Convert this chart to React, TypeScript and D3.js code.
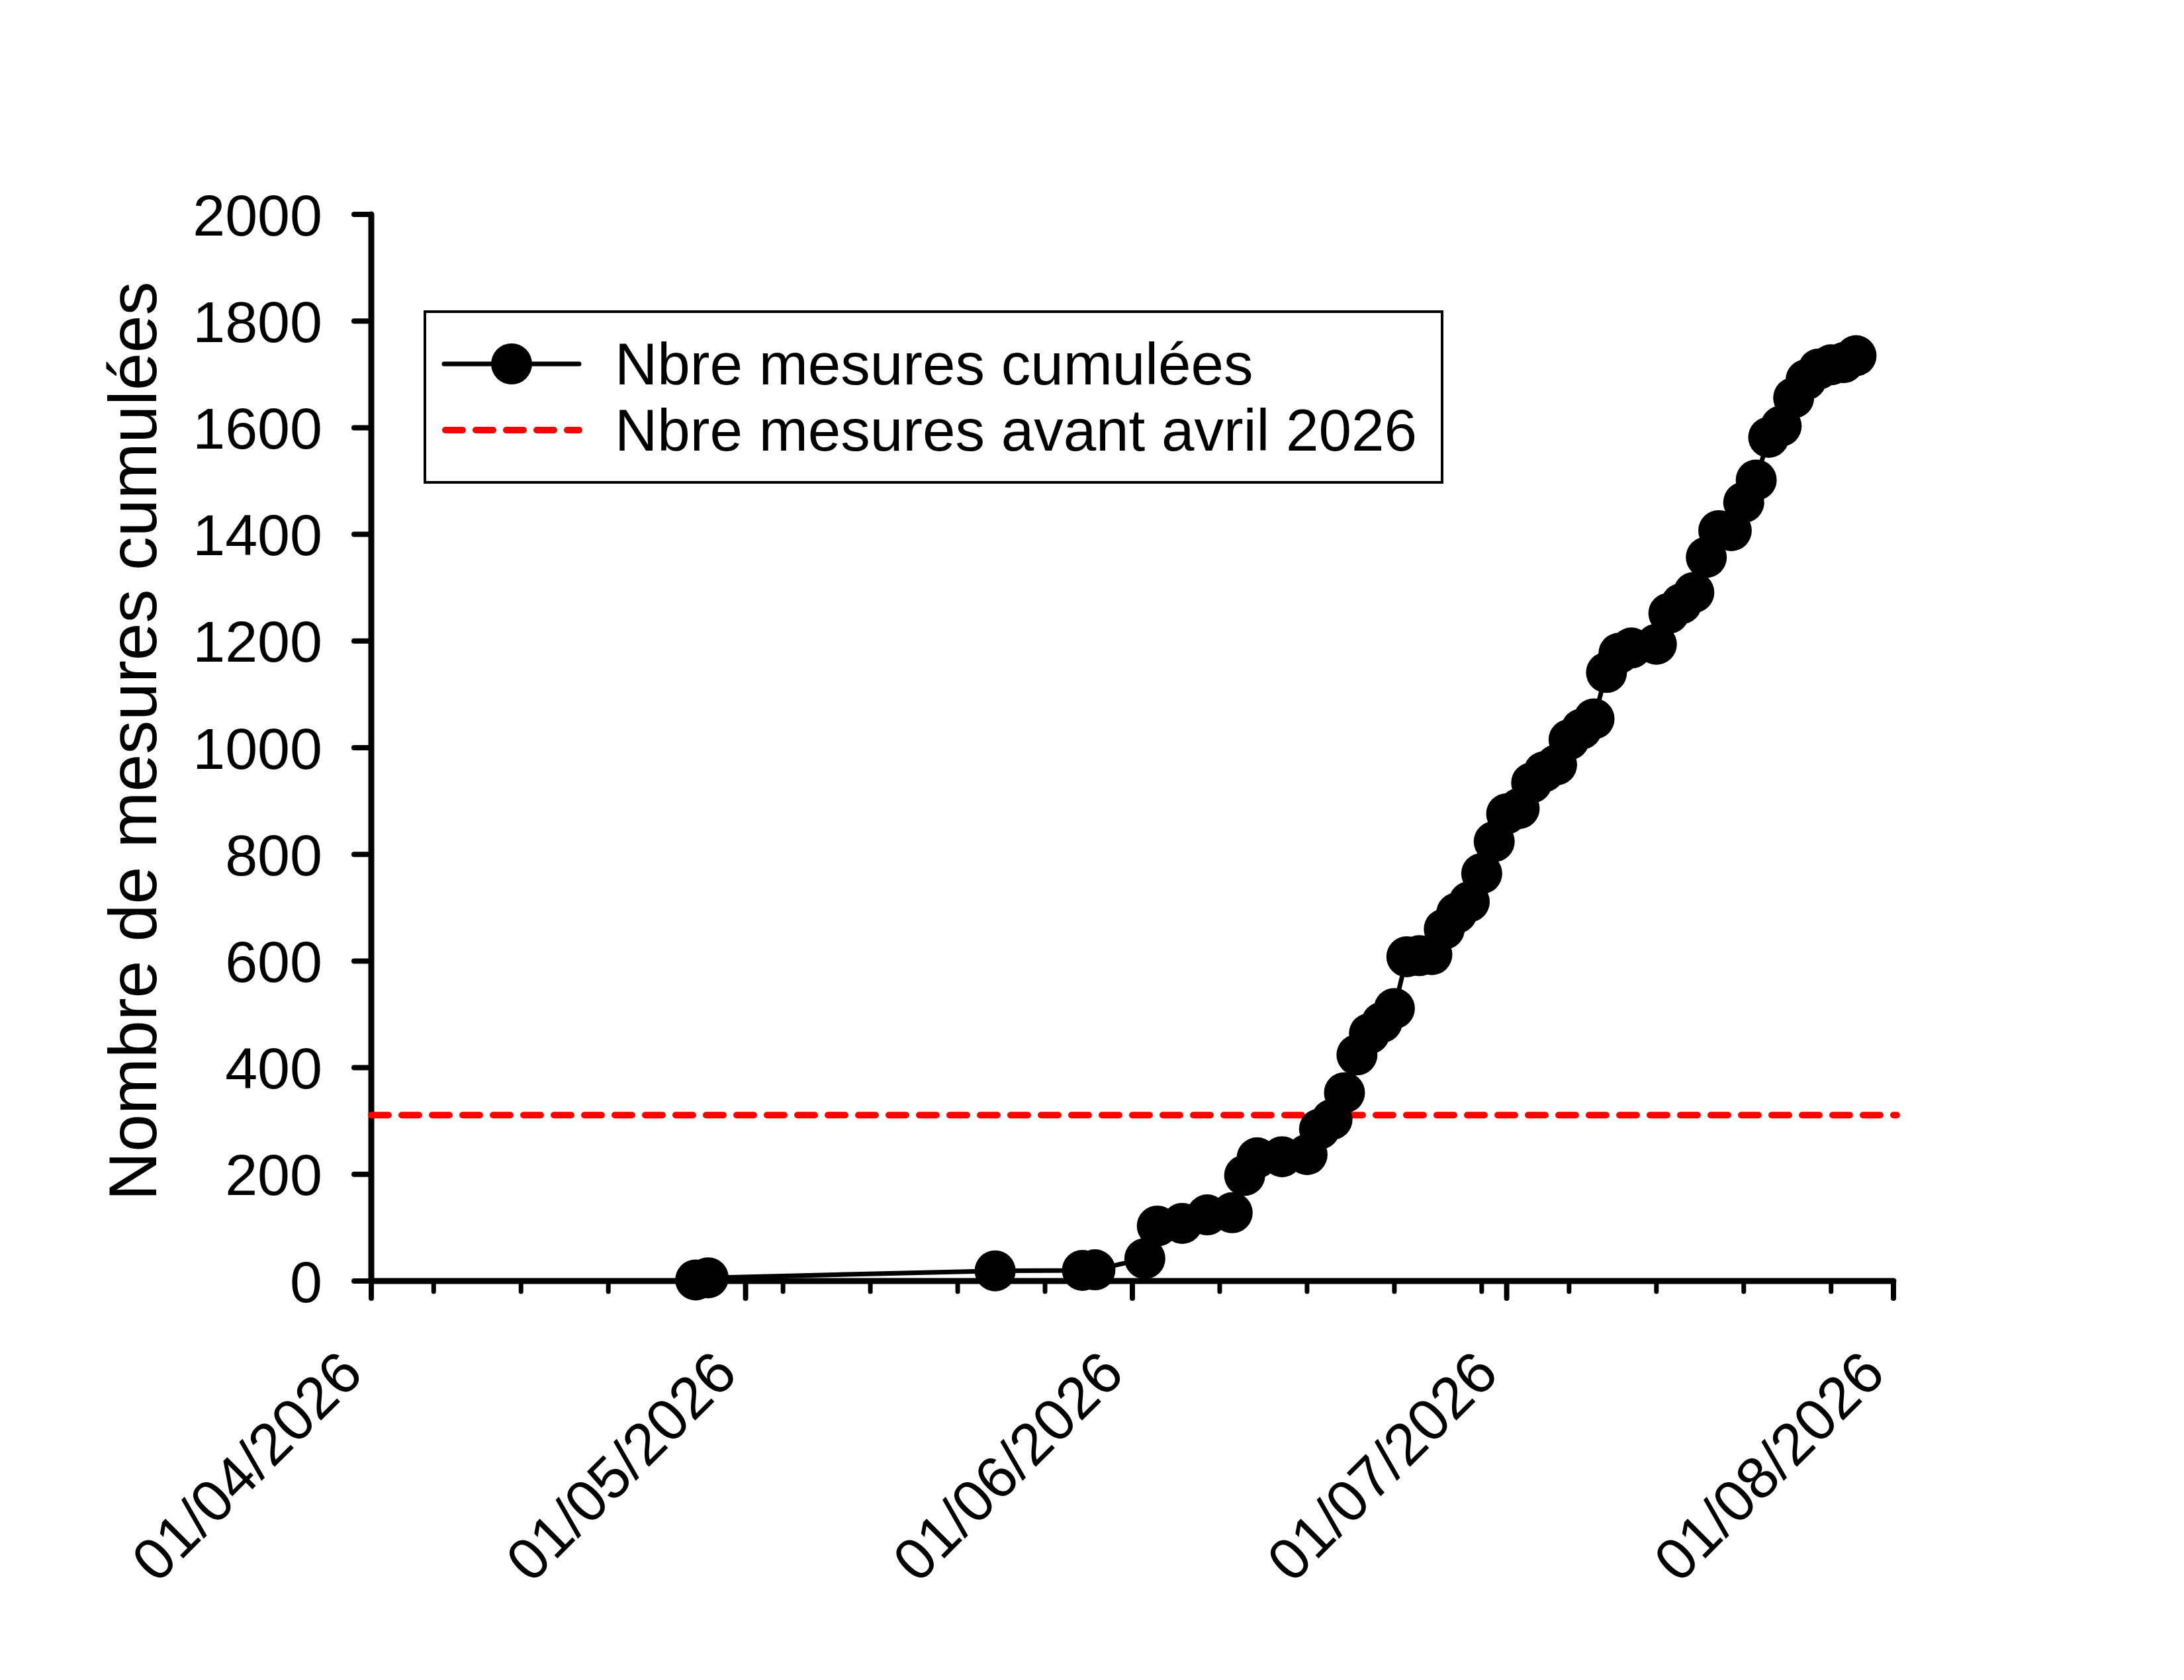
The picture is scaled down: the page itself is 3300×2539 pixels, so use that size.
import { useEffect, useRef } from "react";
import * as d3 from "d3";

const dates = [
  "2026-04-27", "2026-04-28", "2026-05-21", "2026-05-28", "2026-05-29",
  "2026-06-02", "2026-06-03", "2026-06-05", "2026-06-07", "2026-06-09",
  "2026-06-10", "2026-06-11", "2026-06-13", "2026-06-15", "2026-06-16",
  "2026-06-17", "2026-06-18", "2026-06-19", "2026-06-20", "2026-06-21",
  "2026-06-22", "2026-06-23", "2026-06-24", "2026-06-25", "2026-06-26",
  "2026-06-27", "2026-06-28", "2026-06-29", "2026-06-30", "2026-07-01",
  "2026-07-02", "2026-07-03", "2026-07-04", "2026-07-05", "2026-07-06",
  "2026-07-07", "2026-07-08", "2026-07-09", "2026-07-10", "2026-07-11",
  "2026-07-13", "2026-07-14", "2026-07-15", "2026-07-16", "2026-07-17",
  "2026-07-18", "2026-07-19", "2026-07-20", "2026-07-21", "2026-07-22",
  "2026-07-23", "2026-07-24", "2026-07-25", "2026-07-26", "2026-07-27",
  "2026-07-28", "2026-07-29",
];
const cumulated = [
  2, 6, 19, 20, 21,
  42, 103, 108, 124, 128,
  198, 231, 233, 237, 285,
  303, 353, 424, 464, 485,
  511, 608, 610, 612, 660,
  690, 711, 764, 824, 876,
  886, 934, 955, 968, 1015,
  1035, 1054, 1141, 1177, 1187,
  1194, 1252, 1270, 1291, 1357,
  1407, 1407, 1460, 1502, 1582,
  1603, 1656, 1690, 1710, 1718,
  1722, 1735,
];
const beforeApril = 311;
const yTicks = [0, 200, 400, 600, 800, 1000, 1200, 1400, 1600, 1800, 2000];
const xDomain = ["2026-04-01", "2026-08-01"];
const legendLabels = ["Nbre mesures cumulées", "Nbre mesures avant avril 2026"];
const yTitle = "Nombre de mesures cumulées";

const W = 3300;
const H = 2539;
const FONT = "'Liberation Sans', Arial, Helvetica, sans-serif";

export default function App() {
  const svgRef = useRef<SVGSVGElement | null>(null);

  useEffect(() => {
    if (!svgRef.current) return;
    const svg = d3.select(svgRef.current);
    svg.selectAll("*").remove();

    const parse = d3.utcParse("%Y-%m-%d");
    const data = dates.map((d, i) => ({ date: parse(d)!, value: cumulated[i] }));

    const x = d3
      .scaleUtc()
      .domain(xDomain.map((d) => parse(d)!))
      .range([561, 2861]);
    const y = d3.scaleLinear().domain([0, 2000]).range([1936, 324]);
    const [x0, x1] = x.range();
    const [yb, yt] = y.range();

    svg.append("rect").attr("width", W).attr("height", H).attr("fill", "#fff");

    // axes
    const ax = svg.append("g").attr("stroke", "#000").attr("stroke-linecap", "round");
    ax.append("line").attr("x1", x0).attr("x2", x0).attr("y1", yt).attr("y2", yb).attr("stroke-width", 9);
    ax.append("line").attr("x1", x0).attr("x2", x1).attr("y1", yb).attr("y2", yb).attr("stroke-width", 9);

    ax.selectAll("line.ytick")
      .data(yTicks)
      .enter()
      .append("line")
      .attr("class", "ytick")
      .attr("x1", x0 - 26)
      .attr("x2", x0)
      .attr("y1", (d) => y(d))
      .attr("y2", (d) => y(d))
      .attr("stroke-width", 8);

    const months = d3.utcMonth.range(x.domain()[0], d3.utcDay.offset(x.domain()[1], 1));
    const mondays = d3.utcMonday
      .range(x.domain()[0], x.domain()[1])
      .filter((d) => d.getUTCDate() !== 1);

    ax.selectAll("line.xminor")
      .data(mondays)
      .enter()
      .append("line")
      .attr("class", "xminor")
      .attr("x1", (d) => x(d))
      .attr("x2", (d) => x(d))
      .attr("y1", yb)
      .attr("y2", yb + 16)
      .attr("stroke-width", 7);

    ax.selectAll("line.xmajor")
      .data(months)
      .enter()
      .append("line")
      .attr("class", "xmajor")
      .attr("x1", (d) => x(d))
      .attr("x2", (d) => x(d))
      .attr("y1", yb)
      .attr("y2", yb + 26)
      .attr("stroke-width", 8);

    // tick labels
    svg.append("g")
      .selectAll("text")
      .data(yTicks)
      .enter()
      .append("text")
      .attr("x", 487)
      .attr("y", (d) => y(d))
      .attr("dy", "0.36em")
      .attr("text-anchor", "end")
      .style("font", `88px ${FONT}`)
      .text((d) => String(d));

    const fmt = d3.utcFormat("%d/%m/%Y");
    svg.append("g")
      .selectAll("text")
      .data(months)
      .enter()
      .append("text")
      .attr("transform", (d) => `translate(${x(d) - 9}, 2080) rotate(-45)`)
      .attr("text-anchor", "end")
      .style("font", `89px ${FONT}`)
      .text((d) => fmt(d));

    // y title
    svg.append("text")
      .attr("transform", `translate(236, ${(434 + 1806) / 2}) rotate(-90)`)
      .attr("text-anchor", "middle")
      .style("font", `102px ${FONT}`)
      .text(yTitle);

    // reference line
    svg.append("line")
      .attr("x1", x0)
      .attr("x2", x1 + 5)
      .attr("y1", y(beforeApril))
      .attr("y2", y(beforeApril))
      .attr("stroke", "#ff0000")
      .attr("stroke-width", 10)
      .attr("stroke-linecap", "round")
      .attr("stroke-dasharray", "26 20");

    // series
    const line = d3
      .line<{ date: Date; value: number }>()
      .x((d) => x(d.date))
      .y((d) => y(d.value));
    svg.append("path")
      .datum(data)
      .attr("fill", "none")
      .attr("stroke", "#000")
      .attr("stroke-width", 7)
      .attr("d", line);
    svg.append("g")
      .selectAll("circle")
      .data(data)
      .enter()
      .append("circle")
      .attr("cx", (d) => x(d.date))
      .attr("cy", (d) => y(d.value))
      .attr("r", 31)
      .attr("fill", "#000");

    // legend
    const lg = svg.append("g");
    lg.append("rect")
      .attr("x", 642)
      .attr("y", 471)
      .attr("width", 2179 - 642)
      .attr("height", 729 - 471)
      .attr("fill", "#fff")
      .attr("stroke", "#000")
      .attr("stroke-width", 4);
    lg.append("line")
      .attr("x1", 671).attr("x2", 875).attr("y1", 550).attr("y2", 550)
      .attr("stroke", "#000").attr("stroke-width", 7).attr("stroke-linecap", "round");
    lg.append("circle").attr("cx", 773).attr("cy", 550).attr("r", 31).attr("fill", "#000");
    lg.append("line")
      .attr("x1", 673).attr("x2", 875).attr("y1", 650).attr("y2", 650)
      .attr("stroke", "#ff0000").attr("stroke-width", 10).attr("stroke-linecap", "round")
      .attr("stroke-dasharray", "26 20");
    lg.selectAll("text.lab")
      .data(legendLabels)
      .enter()
      .append("text")
      .attr("class", "lab")
      .attr("x", 929)
      .attr("y", (_d, i) => 581 + i * 100)
      .style("font", `89px ${FONT}`)
      .text((d) => d);
  }, []);

  return (
    <div style={{ position: "absolute", left: 0, top: 0, width: W, height: H, background: "#fff" }}>
      <svg ref={svgRef} width={W} height={H} />
    </div>
  );
}
